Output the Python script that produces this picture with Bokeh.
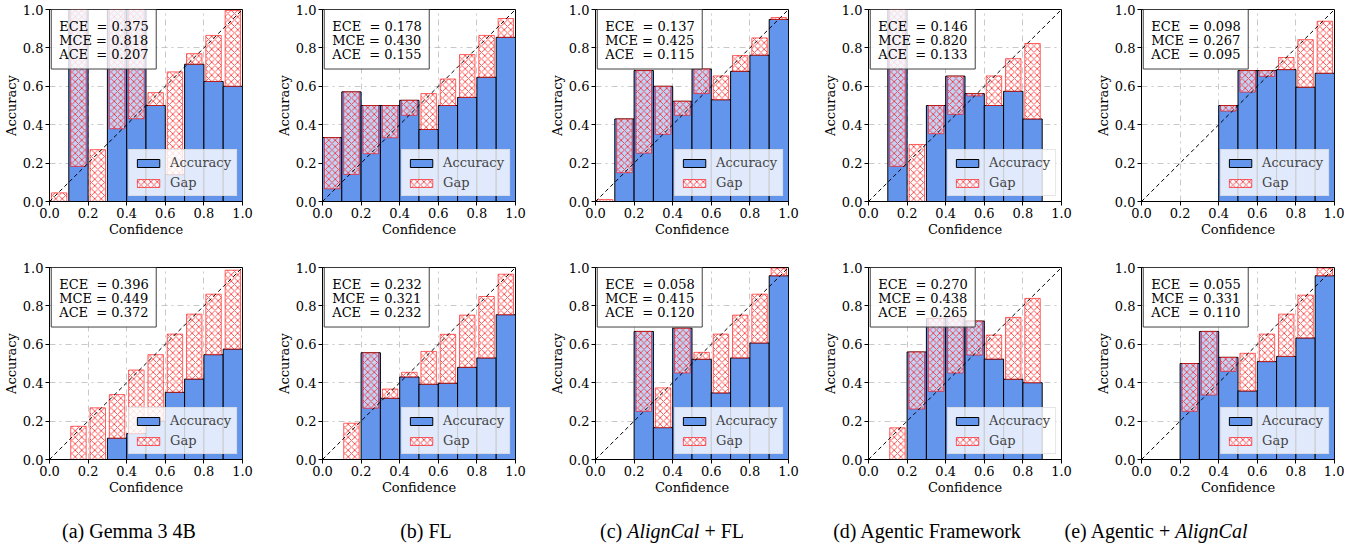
import math
from bokeh.plotting import figure
from bokeh.models import (FixedTicker, PrintfTickFormatter, Label, Legend, LegendItem,
                          Div, ColumnDataSource, Range1d, Slope, BoxAnnotation)
from bokeh.layouts import row, column
from bokeh.embed import file_html
from bokeh.resources import INLINE

nan = float("nan")

# ---------------- data ----------------
bin_lo = [0.0, 0.1, 0.2, 0.3, 0.4, 0.5, 0.6, 0.7, 0.8, 0.9]
bin_w = 0.1
tick_vals = [0.0, 0.2, 0.4, 0.6, 0.8, 1.0]

# top row: accuracy per bin (nan = empty bin) and mean confidence per bin
acc_top_a = [0.0, 1.0, 0.0, 1.0, 1.0, 0.50, 0.14, 0.715, 0.625, 0.60]
conf_top_a = [0.045, 0.183, 0.27, 0.379, 0.431, 0.567, 0.675, 0.77, 0.865, 0.995]
acc_top_b = [0.333, 0.571, 0.50, 0.50, 0.527, 0.375, 0.50, 0.542, 0.647, 0.855]
conf_top_b = [0.066, 0.141, 0.249, 0.332, 0.449, 0.562, 0.638, 0.765, 0.865, 0.953]
acc_top_c = [0.0, 0.43, 0.682, 0.60, 0.522, 0.69, 0.53, 0.678, 0.762, 0.948]
conf_top_c = [0.01, 0.15, 0.252, 0.35, 0.449, 0.562, 0.654, 0.76, 0.852, 0.958]
acc_top_d = [nan, 1.0, 0.0, 0.50, 0.653, 0.562, 0.50, 0.574, 0.43, nan]
conf_top_d = [nan, 0.183, 0.297, 0.353, 0.454, 0.55, 0.654, 0.744, 0.823, nan]
acc_top_e = [nan, nan, nan, nan, 0.50, 0.682, 0.682, 0.687, 0.595, 0.668]
conf_top_e = [nan, nan, nan, nan, 0.471, 0.57, 0.652, 0.75, 0.843, 0.939]

# bottom row
acc_bot_a = [nan, 0.0, 0.0, 0.111, 0.135, 0.20, 0.35, 0.419, 0.546, 0.575]
conf_bot_a = [nan, 0.173, 0.269, 0.338, 0.466, 0.546, 0.653, 0.757, 0.861, 0.986]
acc_bot_b = [nan, 0.0, 0.556, 0.319, 0.43, 0.392, 0.397, 0.48, 0.529, 0.754]
conf_bot_b = [nan, 0.189, 0.267, 0.367, 0.454, 0.563, 0.652, 0.752, 0.849, 0.965]
acc_bot_c = [nan, nan, 0.667, 0.166, 0.684, 0.522, 0.347, 0.529, 0.607, 0.957]
conf_bot_c = [nan, nan, 0.251, 0.373, 0.451, 0.558, 0.653, 0.752, 0.861, 0.997]
acc_bot_d = [nan, 0.0, 0.56, 0.735, 0.744, 0.721, 0.523, 0.418, 0.40, nan]
conf_bot_d = [nan, 0.165, 0.263, 0.355, 0.451, 0.544, 0.648, 0.74, 0.839, nan]
acc_bot_e = [nan, nan, 0.50, 0.667, 0.532, 0.357, 0.51, 0.537, 0.633, 0.957]
conf_bot_e = [nan, nan, 0.251, 0.336, 0.459, 0.553, 0.653, 0.757, 0.856, 0.997]

ece_top = [0.375, 0.178, 0.137, 0.146, 0.098]
mce_top = [0.818, 0.430, 0.425, 0.820, 0.267]
ace_top = [0.207, 0.155, 0.115, 0.133, 0.095]
ece_bot = [0.396, 0.232, 0.058, 0.270, 0.055]
mce_bot = [0.449, 0.321, 0.415, 0.438, 0.331]
ace_bot = [0.372, 0.232, 0.120, 0.265, 0.110]

metric_names = ["ECE\u00a0", "MCE", "ACE\u00a0"]

captions = ["(a) Gemma 3 4B", "(b) FL", "(c) <i>AlignCal</i> + FL",
            "(d) Agentic Framework", "(e) Agentic + <i>AlignCal</i>"]

# ---------------- style ----------------
FONT = "DejaVu Serif"
FS = "13px"
BLUE = "#6495ED"
FRAME_W, FRAME_H = 193, 192
FIG_W = 272
LEFT_B = 48
caption_centers = [124, 421, 667, 922, 1151]


def make_panel(acc, conf, metrics, is_last, top_row):
    right_b = 10 if is_last else FIG_W - LEFT_B - FRAME_W
    p = figure(x_range=Range1d(0, 1), y_range=Range1d(0, 1),
               frame_width=FRAME_W, frame_height=FRAME_H,
               min_border_left=LEFT_B, min_border_right=right_b,
               min_border_top=9, min_border_bottom=(57 if top_row else 40),
               output_backend="svg", toolbar_location=None)
    p.background_fill_color = "white"
    p.border_fill_color = "white"
    p.outline_line_color = "black"
    p.outline_line_width = 1

    al, ar, at = [], [], []
    gx, gb, gt = [], [], []
    for lo, a, c in zip(bin_lo, acc, conf):
        if math.isnan(c):
            continue
        if a > 0:
            al.append(lo)
            ar.append(lo + bin_w)
            at.append(a)
        gx.append(lo + bin_w / 2)
        gb.append(min(a, c))
        gt.append(max(a, c))
    src_acc = ColumnDataSource(dict(left=al, right=ar, top=at))
    src_gap = ColumnDataSource(dict(x=gx, bottom=gb, top=gt))

    r_acc = p.quad(left="left", right="right", bottom=0, top="top", source=src_acc,
                   fill_color=BLUE, line_color="black", line_width=1)
    r_gap = p.vbar(x="x", width=0.08, bottom="bottom", top="top", source=src_gap,
                   fill_color="white", fill_alpha=0.6,
                   line_color="red", line_alpha=0.6, line_width=1,
                   hatch_pattern="diagonal_cross", hatch_color="red",
                   hatch_alpha=0.75, hatch_scale=6.5, hatch_weight=0.9)

    p.add_layout(Slope(gradient=1, y_intercept=0, line_color="black",
                       line_dash="4 3", line_width=1))

    for ax in (p.xaxis[0], p.yaxis[0]):
        ax.ticker = FixedTicker(ticks=tick_vals)
        ax.formatter = PrintfTickFormatter(format="%.1f")
        ax.major_label_text_font = FONT
        ax.major_label_text_font_size = FS
        ax.major_label_text_color = "black"
        ax.axis_label_text_font = FONT
        ax.axis_label_text_font_size = FS
        ax.axis_label_text_font_style = "normal"
        ax.axis_label_text_color = "black"
        ax.major_tick_out = 4
        ax.major_tick_in = 0
        ax.minor_tick_line_color = None
        ax.axis_line_color = "black"
        ax.major_tick_line_color = "black"
        ax.major_label_standoff = 2
        ax.axis_label_standoff = 1
    p.xaxis.axis_label = "Confidence"
    p.yaxis.axis_label = "Accuracy"
    p.grid.grid_line_color = "#b0b0b0"
    p.grid.grid_line_dash = "dashdot"
    p.grid.grid_line_alpha = 0.7

    legend = Legend(items=[LegendItem(label="Accuracy", renderers=[r_acc]),
                           LegendItem(label="Gap", renderers=[r_gap])],
                    location="bottom_right")
    legend.label_text_font = FONT
    legend.label_text_font_size = FS
    legend.glyph_width = 28
    legend.glyph_height = 10
    legend.label_standoff = 8
    legend.label_height = 14
    legend.spacing = 5
    legend.padding = 5
    legend.margin = 5
    legend.background_fill_color = "white"
    legend.background_fill_alpha = 0.8
    legend.border_line_color = "#cccccc"
    legend.border_line_width = 1
    p.add_layout(legend)

    # metrics text box
    p.add_layout(BoxAnnotation(left=0.009, right=0.553, top=1.0, bottom=0.69,
                               fill_color="white", fill_alpha=0.8,
                               line_color="#404040", line_alpha=1.0, line_width=1))
    for i, (name, val) in enumerate(zip(metric_names, metrics)):
        p.add_layout(Label(x=0.009, y=1.0, x_offset=8, y_offset=-9 - 14 * i,
                           text="%s = %.3f" % (name, val),
                           text_align="left", text_baseline="top",
                           text_font=FONT, text_font_size=FS, text_color="black"))
    return p


top_data = [(acc_top_a, conf_top_a), (acc_top_b, conf_top_b), (acc_top_c, conf_top_c),
            (acc_top_d, conf_top_d), (acc_top_e, conf_top_e)]
bot_data = [(acc_bot_a, conf_bot_a), (acc_bot_b, conf_bot_b), (acc_bot_c, conf_bot_c),
            (acc_bot_d, conf_bot_d), (acc_bot_e, conf_bot_e)]

top_figs = [make_panel(a, c, (ece_top[i], mce_top[i], ace_top[i]), i == 4, True)
            for i, (a, c) in enumerate(top_data)]
bot_figs = [make_panel(a, c, (ece_bot[i], mce_bot[i], ace_bot[i]), i == 4, False)
            for i, (a, c) in enumerate(bot_data)]

spans = "".join(
    '<span style="position:absolute;left:%dpx;top:13px;transform:translateX(-50%%);'
    'white-space:nowrap;">%s</span>' % (cx, t)
    for cx, t in zip(caption_centers, captions))
cap_div = Div(text='<div style="position:relative;width:1330px;height:45px;'
                   'font-family:\'Liberation Serif\',serif;font-size:20px;color:black;">'
                   + spans + '</div>', width=1330, height=45)

layout = column(row(*top_figs), row(*bot_figs), cap_div)

open("out.html", "w").write(file_html(layout, INLINE))
